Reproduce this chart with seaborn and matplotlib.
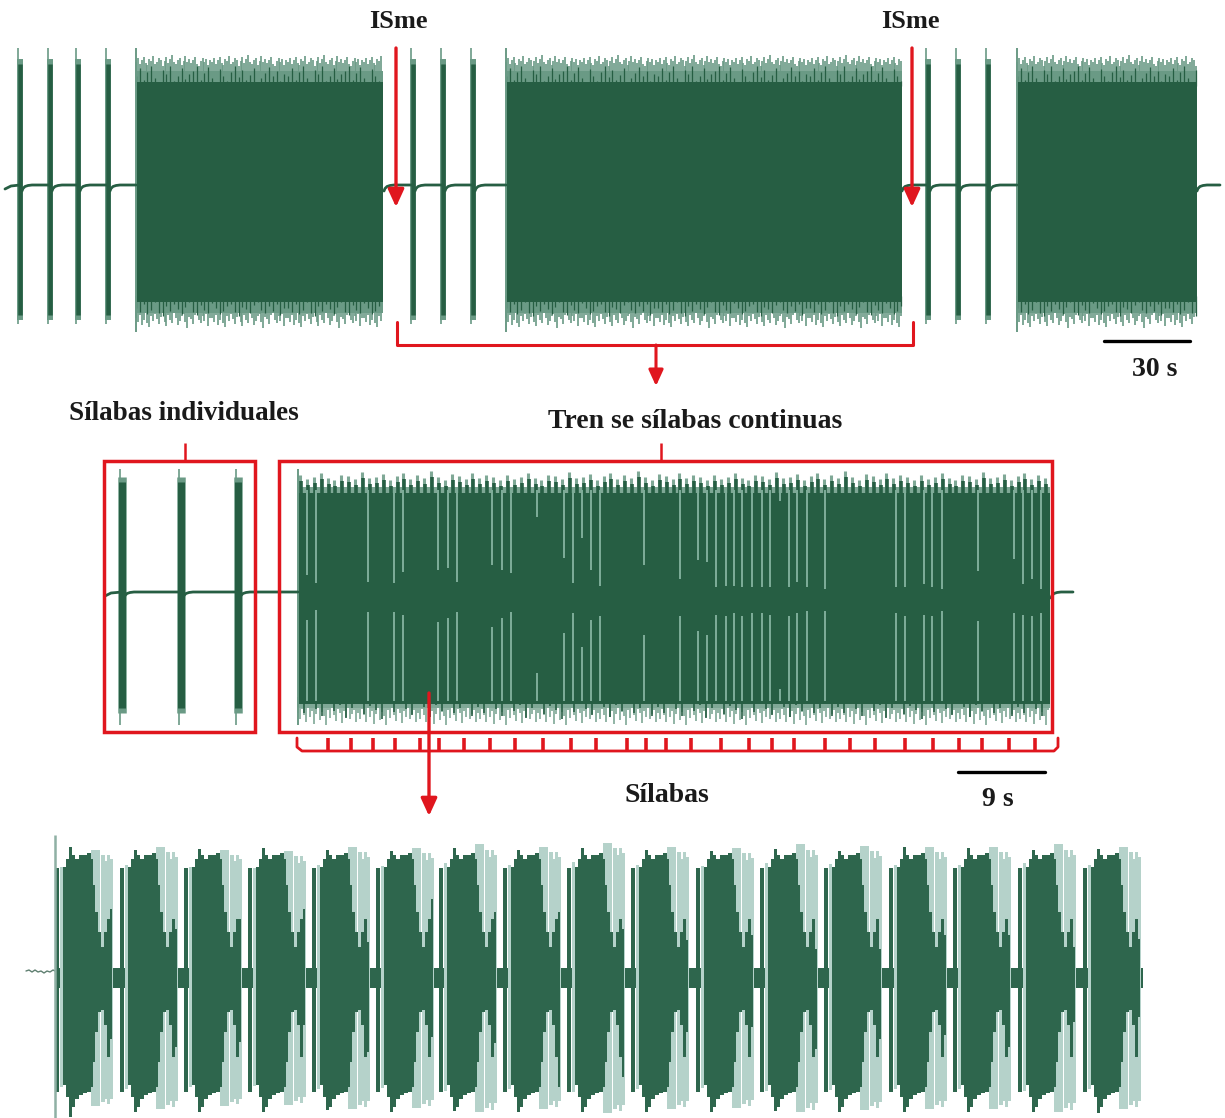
import numpy as np
import pandas as pd
import matplotlib
matplotlib.use('Agg')
import matplotlib.pyplot as plt
from matplotlib.patches import Rectangle
import seaborn as sns

a_pulses = [20, 50, 78, 108, 413, 443, 473, 928, 958, 988]
a_trains = [(136, 383), (506, 902), (1017, 1197)]
a_quiet = [(5, 136), (382, 506), (900, 1017), (1195, 1220)]
b_pulses = [122, 181, 238]
b_train = (298, 1050)
b_quiet = [(105, 298), (1049, 1073)]

edge_a_top_outer = [124, 128, 122, 126, 129, 123, 121, 127, 125, 130, 122, 124, 128, 126, 120, 125,
                    129, 123, 127, 131, 124, 122, 126, 128, 121, 125, 130, 124, 127, 123, 126, 129,
                    122, 120, 125, 128, 124, 127, 121, 126]
edge_a_top_inner = [110, 118, 106, 114, 120, 108, 104, 116, 112, 120, 105, 110, 118, 107, 112, 115,
                    120, 106, 113, 119, 108, 104, 117, 110, 105, 114, 120, 109, 116, 106, 111, 118,
                    104, 108, 113, 119, 110, 115, 105, 112]
edge_a_bot_outer = [132, 136, 129, 139, 134, 127, 137, 141, 130, 135, 128, 133, 138, 131, 126, 136,
                    140, 129, 134, 137, 127, 132, 139, 135, 130, 128, 136, 142, 131, 133, 138, 129,
                    126, 134, 137, 130, 135, 128, 140, 132]
edge_a_bot_inner = [122, 126, 118, 128, 124, 116, 127, 130, 120, 125, 118, 123, 128, 121, 116, 126,
                    129, 119, 124, 127, 117, 122, 128, 125, 120, 118, 126, 130, 121, 123, 127, 119,
                    116, 124, 127, 120, 125, 118, 129, 122]

edge_b_tip = [122, 118, 120, 124, 119, 117, 122, 121, 118, 125, 119, 120, 123, 117, 121, 124, 118,
              122, 119, 126, 120, 117, 123, 121, 118, 124, 119, 122, 120, 117]
edge_b_bot = [116, 122, 112, 118, 125, 110, 120, 114, 127, 117, 111, 123, 115, 119, 128, 113, 121,
              109, 118, 124, 112, 116, 126, 114, 120, 110, 122, 117, 113, 125]

b_line_x = [307, 316, 368, 394, 403, 438, 448, 457, 492, 502, 511, 537, 564, 573, 582, 591, 600, 644,
            680, 698, 707, 716, 726, 734, 742, 752, 762, 770, 780, 789, 797, 807, 825, 896, 905, 924,
            932, 942, 978, 1014, 1023, 1032, 1041]
b_line_top_end = [22, 14, 15, 14, 25, 27, 29, 15, 32, 27, 24, 80, 39, 14, 59, 27, 11, 32,
                  18, 37, 35, 10, 11, 11, 10, 10, 10, 10, 96, 10, 15, 10, 8, 10, 10, 13,
                  10, 8, 26, 38, 13, 18, 8]
b_line_bot_start = [23, 13, 15, 15, 18, 25, 21, 15, 30, 21, 15, 76, 36, 16, 50, 23, 19, 38,
                    19, 34, 38, 18, 19, 16, 19, 16, 16, 18, 92, 19, 16, 14, 14, 16, 19, 18,
                    19, 14, 24, 16, 18, 19, 16]

comb_x = [328, 351, 373, 395, 420, 439, 464, 490, 515, 543, 571, 596, 627, 646, 666, 691, 721, 749,
          772, 794, 825, 850, 875, 905, 933, 959, 982, 1009, 1035]

# one syllable of the bottom trace, step envelope
syl_offset = [0, 4, 8, 11, 14, 17, 20, 24, 28, 32, 36, 38, 40, 43, 46, 49, 52, 55, 57, 64]
syl_top = [109, 0, 110, 118, 127, 122, 118, 122, 122, 124, 118, 92, 65, 45, 30, 45, 58, 68, 0, 0]
syl_bot = [115, 0, 108, 120, 135, 130, 122, 118, 116, 115, 110, 85, 55, 35, 33, 48, 80, 110, 0, 0]
syl_light_offset = [4, 5, 8, 36, 45, 46, 50, 52, 55, 58]
syl_light_top = [0, 112, 0, 130, 0, 125, 118, 125, 120, 0]
syl_light_bot = [0, 112, 0, 132, 0, 128, 124, 130, 124, 0]

syl_start = [55, 120, 184, 248, 312, 376, 439, 503, 567, 631, 696, 760, 824, 889, 953, 1018, 1083]
syl_peak_top = [130, 127, 128, 129, 127, 126, 129, 127, 129, 127, 126, 128, 126, 130, 129, 127, 128]
syl_peak_bot = [140, 135, 135, 135, 133, 135, 134, 135, 135, 135, 135, 134, 135, 135, 135, 135, 136]
syl_light_scale = [0.98, 1.0, 0.98, 0.97, 1.0, 0.99, 1.02, 1.0, 1.03, 1.0, 0.99, 1.02, 1.01, 1.0, 1.0, 1.02, 1.0]
syl_tail_top = [68, 48, 58, 68, 35, 78, 65, 65, 48, 37, 42, 28, 28, 42, 42, 30, 38]
syl_tail_bot = [62, 70, 65, 48, 75, 60, 66, 110, 100, 55, 50, 72, 62, 58, 70, 45, 40]

noise_x = [26, 29, 32, 35, 38, 41, 44, 47, 50, 53, 55]
noise_y = [971, 970, 972, 970, 972, 971, 973, 971, 972, 970, 971]

hook_dx = [2, 3, 5, 8, 12]
hook_dy = [6, 3.5, 1.5, 0.5, 0]

DARK = '#265E43'
DARK_C = '#2E664D'
MID = '#6A9A85'
LINE = '#7FAE9A'
LIGHT = '#B5D2CA'
RED = '#E0161E'
INK = '#1A1A1A'
CY_A, CY_B, CY_C = 186, 597, 977
BASE_A, BASE_B = 185, 592


def baseline_frame(quiet, pulses, level, first_id):
    rows = []
    for q, (x0, x1) in enumerate(quiet):
        stops = [x0] + [p for p in pulses if x0 < p < x1] + [x1]
        for i in range(len(stops) - 1):
            seg = first_id + q * 100 + i
            if i > 0 or q > 0:
                rows += [(stops[i] + dx, level + dy, seg) for dx, dy in zip(hook_dx, hook_dy)
                         if stops[i] + dx < stops[i + 1]]
            else:
                rows.append((stops[i], level + 4, seg))
                rows.append((stops[i] + 6, level + 1, seg))
            rows.append((stops[i + 1], level, seg))
    return pd.DataFrame(rows, columns=['x', 'y', 'segment'])


def draw_pulses(ax, pulses, cy, tip, core_top, core_bot, width):
    pulses = np.array(pulses)
    ax.vlines(pulses - 2, cy - tip, cy + tip, color=MID, lw=1.2)
    ax.vlines(pulses, cy - core_top, cy + core_bot, color=MID, lw=(width + 1.5) * 0.72)
    ax.vlines(pulses, cy - core_top + 5, cy + core_bot - 5, color=DARK, lw=width * 0.72)


def draw_train_a(ax, x0, x1):
    xs = np.arange(x0, x1, 1.9)
    ax.fill_between([x0, x1], CY_A - 115, CY_A + 127, color=MID, lw=0, zorder=1)
    ax.vlines(xs, CY_A - np.resize(edge_a_top_outer, xs.size), CY_A - 100, color=MID, lw=1.2, zorder=1.2)
    ax.vlines(xs, CY_A + 110, CY_A + np.resize(edge_a_bot_outer, xs.size), color=MID, lw=1.2, zorder=1.2)
    ax.vlines(xs[::2], CY_A - np.resize(edge_a_top_inner, xs[::2].size), CY_A - 100, color=DARK, lw=0.9, zorder=1.3)
    ax.vlines(xs[::2], CY_A + 110, CY_A + np.resize(edge_a_bot_inner, xs[::2].size), color=DARK, lw=0.9, zorder=1.3)
    ax.fill_between([x0, x1], CY_A - 104, CY_A + 116, color=DARK, lw=0, zorder=1.4)
    ax.vlines(x0, CY_A - 138, CY_A + 146, color=MID, lw=1.4, zorder=1.5)


sns.set_theme(style='white')
fig = plt.figure(figsize=(12.25, 11.18), dpi=100)
ax = fig.add_axes([0, 0, 1, 1])

# top trace
draw_pulses(ax, a_pulses, CY_A, 138, 127, 134, 4.5)
for x0, x1 in a_trains:
    draw_train_a(ax, x0, x1)
sns.lineplot(data=baseline_frame(a_quiet, a_pulses, BASE_A, 0), x='x', y='y', units='segment',
             estimator=None, sort=False, color=DARK, linewidth=2.0, legend=False, ax=ax)

# middle trace
draw_pulses(ax, b_pulses, CY_B, 128, 120, 116, 7)
sns.lineplot(data=baseline_frame(b_quiet, b_pulses, BASE_B, 1000), x='x', y='y', units='segment',
             estimator=None, sort=False, color=DARK, linewidth=2.0, legend=False, ax=ax)
tooth_x = np.arange(b_train[0] + 2, b_train[1], 6.9)
tooth_tip = np.resize(edge_b_tip, tooth_x.size)
low_x = np.arange(b_train[0], b_train[1], 2.0)
ax.fill_between(b_train, CY_B - 110, CY_B + 111, color='#7FA896', lw=0, zorder=1)
ax.vlines(tooth_x, CY_B - tooth_tip, CY_B - 100, color='#7FA896', lw=2.2, zorder=1.2)
ax.vlines(tooth_x + 1, CY_B - tooth_tip + 6, CY_B - 100, color=DARK, lw=2.6, zorder=1.3)
ax.vlines(low_x, CY_B + 100, CY_B + np.resize(edge_b_bot, low_x.size), color='#7FA896', lw=1.2, zorder=1.2)
ax.vlines(low_x[::3], CY_B + 100, CY_B + np.resize(edge_b_bot, low_x[::3].size) - 6, color=DARK, lw=1.2, zorder=1.3)
ax.fill_between(b_train, CY_B - 104, CY_B + 107, color=DARK, lw=0, zorder=1.4)
ax.vlines(b_train[0], CY_B - 128, CY_B + 128, color=MID, lw=1.4, zorder=1.5)
line_x = np.array(b_line_x)
ax.vlines(line_x, CY_B - 107, CY_B - np.array(b_line_top_end), color=LINE, lw=1.4, zorder=1.6)
ax.vlines(line_x, CY_B + np.array(b_line_bot_start), CY_B + 104, color=LINE, lw=1.4, zorder=1.6)

# bottom trace
ax.plot(noise_x, noise_y, color='#5E7F70', lw=1.0)
ax.vlines(syl_start[0], 835, 1118, color='#8FB0A4', lw=1.8)
ax.fill_between([syl_start[0], 1143], CY_C - 9, CY_C + 11, color=DARK_C, lw=0)
for s, pk_t, pk_b, lk, tail_t, tail_b in zip(syl_start, syl_peak_top, syl_peak_bot, syl_light_scale,
                                             syl_tail_top, syl_tail_bot):
    lx = s + np.array(syl_light_offset, dtype=float)
    ax.fill_between(lx, CY_C - np.array(syl_light_top) * lk, CY_C + np.array(syl_light_bot) * lk,
                    step='post', color=LIGHT, lw=0)
    sx = s + np.array(syl_offset, dtype=float)
    top = np.array(syl_top, dtype=float)
    bot = np.array(syl_bot, dtype=float)
    top[4] = pk_t
    bot[4] = pk_b
    top[17] = tail_t
    bot[17] = tail_b
    ax.fill_between(sx, CY_C - top, CY_C + bot, step='post', color=DARK_C, lw=0)

# red marks
arrow_head = '-|>,head_length=0.48,head_width=0.22'
for x in [396, 912]:
    ax.annotate('', xy=(x, 207), xytext=(x, 48),
                arrowprops=dict(arrowstyle=arrow_head, color=RED, lw=2.4, mutation_scale=22, shrinkA=0, shrinkB=0))
ax.plot([397, 397, 913, 913], [322, 345, 345, 322], color=RED, lw=2.2, solid_joinstyle='round')
ax.annotate('', xy=(656, 386), xytext=(656, 345),
            arrowprops=dict(arrowstyle=arrow_head, color=RED, lw=2.2, mutation_scale=20, shrinkA=0, shrinkB=0))
for left, right in [(104, 255), (279, 1052)]:
    ax.add_patch(Rectangle((left, 461), right - left, 271, fill=False, edgecolor=RED, lw=2.5, zorder=4))
ax.vlines([185, 661], 443, 461, color=RED, lw=1.8)
ax.plot([297, 297, 302, 1054, 1058, 1058], [738, 747, 751, 751, 747, 738], color=RED, lw=2.0)
ax.vlines(comb_x, 738, 751, color=RED, lw=2.6)
ax.annotate('', xy=(429, 816), xytext=(429, 693),
            arrowprops=dict(arrowstyle=arrow_head, color=RED, lw=2.4, mutation_scale=22, shrinkA=0, shrinkB=0),
            zorder=5)

# scale bars
ax.plot([1104, 1190], [341, 341], color='black', lw=2.4)
ax.plot([958, 1045], [772, 772], color='black', lw=2.4)

labels = [('ISme', 398, 22, 19), ('ISme', 910, 22, 19), ('30 s', 1155, 369, 20),
          ('Sílabas individuales', 184, 414, 19.5), ('Tren se sílabas continuas', 695, 421, 20),
          ('Sílabas', 667, 795, 20), ('9 s', 998, 799, 20)]
for text, x, y, size in labels:
    ax.text(x, y, text, family='Liberation Serif', weight='bold', fontsize=size,
            color=INK, ha='center', va='center')

ax.set_xlim(0, 1225)
ax.set_ylim(1118, 0)
ax.axis('off')
fig.savefig('out.png', dpi=100)
